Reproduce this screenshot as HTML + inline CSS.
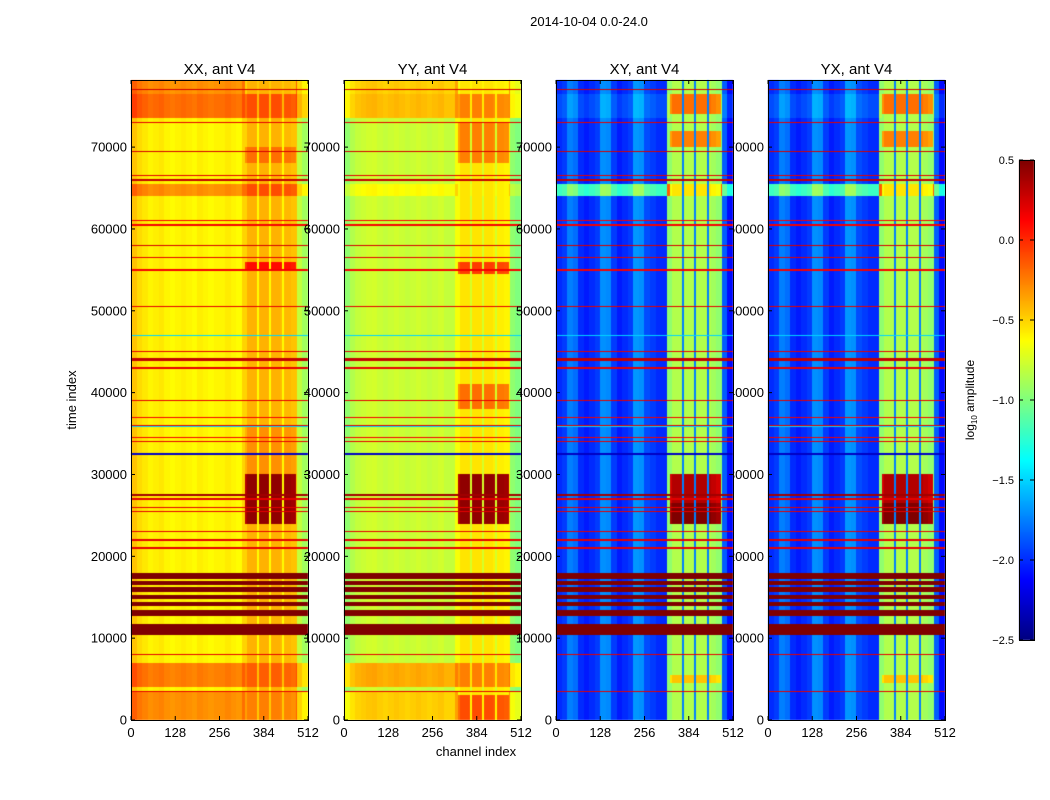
<!DOCTYPE html>
<html><head><meta charset="utf-8"><style>
body{margin:0;background:#fff;width:1050px;height:800px;overflow:hidden;position:relative;font-family:"Liberation Sans",sans-serif}
canvas{position:absolute;left:0;top:0}
svg{position:absolute;left:0;top:0}
</style></head><body>
<canvas id="cv" width="1050" height="800"></canvas>
<svg id="sv" width="1050" height="800"></svg>
<script>
// ---- data ----
const panelTitles=["XX, ant V4","YY, ant V4","XY, ant V4","YX, ant V4"];
const xTicks=[0,128,256,384,512];
const yTicks=[0,10000,20000,30000,40000,50000,60000,70000];
const cbTicks=[0.5,0.0,-0.5,-1.0,-1.5,-2.0,-2.5];
const cbLabels=["0.5","0.0","\u22120.5","\u22121.0","\u22121.5","\u22122.0","\u22122.5"];
// channel profiles at 16-channel bins (32 bins)
const profXX=[-0.45,-0.52,-0.56,-0.6,-0.58,-0.56,-0.6,-0.62,-0.6,-0.58,-0.6,-0.62,-0.58,-0.6,-0.62,-0.6,-0.6,-0.57,-0.6,-0.62,-0.5,-0.4,-0.4,-0.4,-0.4,-0.4,-0.4,-0.42,-0.42,-0.45,-0.8,-0.9];
const profYY=[-0.95,-0.85,-0.8,-0.78,-0.76,-0.75,-0.78,-0.8,-0.78,-0.76,-0.78,-0.8,-0.78,-0.76,-0.78,-0.8,-0.78,-0.76,-0.8,-0.8,-0.65,-0.55,-0.55,-0.55,-0.55,-0.55,-0.55,-0.58,-0.58,-0.6,-0.95,-1.0];
const profXY=[-2.0,-1.95,-1.75,-1.8,-2.0,-2.05,-2.0,-1.95,-1.7,-1.72,-1.95,-2.05,-2.0,-1.95,-1.68,-1.7,-1.9,-1.95,-2.0,-2.0,-0.95,-0.85,-0.85,-0.85,-0.85,-0.85,-0.85,-0.85,-0.9,-0.95,-1.85,-2.1];
const profs=[profXX,profYY,profXY,profXY];
const gapVals=[-0.62,-0.75,-1.75,-1.75];
// time bands [start,end,offset] applied to non-RFI part
const bandsXX=[[0,3500,0.3],[4000,7000,0.35],[64000,65500,0.3],[73500,76500,0.4],[76500,78200,0.3]];
const bandsYY=[[0,3500,0.3],[4000,7000,0.4],[64000,65500,0.15],[73500,76500,0.35],[76500,78200,0.3]];
const bandsXY=[[64000,65500,0.8],[73500,76500,0.1]];
const bandsAll=[bandsXX,bandsYY,bandsXY,bandsXY];
// RFI boost bands in channels 330-478 [start,end,boost]
const rfiXX=[[0,3500,0.15],[4000,7000,0.25],[24000,30000,0.85],[30000,36000,0.1],[55000,56000,0.5],[64000,65500,0.3],[68000,70000,0.2],[73500,76500,0.3]];
const rfiYY=[[0,3000,0.45],[4000,7000,0.3],[24000,30000,1.0],[38000,41000,0.35],[54500,56000,0.5],[68000,73000,0.3],[73500,76500,0.3]];
const rfiXY=[[24000,26500,1.35],[26500,30000,1.2],[70000,72000,0.6],[74000,76500,0.65],[4500,5500,0.4],[64000,65500,0.3]];
const rfiAll=[rfiXX,rfiYY,rfiXY,rfiXY];
// horizontal lines [time, value]
const lineTimes=[77000,73000,69500,66500,66000,61000,60500,58000,56500,55000,50500,47000,45000,44200,44000,43000,39000,37000,36000,35900,34500,34000,32500,27500,27000,26000,25500,23000,22000,21000,8000,3500];
const lineVals=[0.25,0.2,0.25,0.2,0.3,0.15,0.15,0.25,0.2,0.15,0.2,-1.5,0.2,0.3,0.3,0.2,0.2,0.15,0.2,-1.5,0.15,0.2,-2.3,0.4,0.2,0.2,0.2,0.2,0.2,0.2,0.2,0.2];
// saturated RFI block bands (dark red)
const satBands=[[10400,11700],[12700,13500],[13900,14400],[14800,15300],[15700,16200],[16500,17000],[17200,18000]];
const satVal=0.5;
// ---- layout ----
const panelX=[131,344,556,768], PW=177, PT=80, PB=720, TMAX=78200;
const yOf=t=>PB-t*(PB-PT)/TMAX;
const xOf=(p,c)=>panelX[p]+c*PW/512;
function jet(v){let f=(v+2.5)/3;f=Math.max(0,Math.min(1,f));
 const r=Math.max(0,Math.min(1,1.5-Math.abs(4*f-3))),g=Math.max(0,Math.min(1,1.5-Math.abs(4*f-2))),b=Math.max(0,Math.min(1,1.5-Math.abs(4*f-1)));
 return [r*255|0,g*255|0,b*255|0];}
const cv=document.getElementById('cv'),ctx=cv.getContext('2d');
const lumps=[[330,364],[370,400],[406,438],[444,478]];
for(let p=0;p<4;p++){
 const img=ctx.createImageData(PW,PB-PT);
 for(let y=0;y<PB-PT;y++){
  const t=(PB-PT-y-0.5)*TMAX/(PB-PT);
  let off=0;for(const b of bandsAll[p]) if(t>=b[0]&&t<b[1]) off=b[2];
  let rb=0;for(const b of rfiAll[p]) if(t>=b[0]&&t<b[1]) rb=b[2];
  let sat=false;for(const b of satBands) if(t>=b[0]&&t<b[1]) sat=true;
  let lv=null;for(let i=0;i<lineTimes.length;i++) if(Math.abs(t-lineTimes[i])<80) lv=lineVals[i];
  for(let x=0;x<PW;x++){
   const c=(x+0.5)*512/PW;
   let v=profs[p][Math.min(31,c/16|0)];
   let inL=false;for(const l of lumps) if(c>=l[0]&&c<l[1]) inL=true;
   const inR=c>=330&&c<478;
   if(inR&&!inL) v=gapVals[p]+(p<2?off*0.5:0);
   else if(inL) v+=rb;
   else v+=off;
   if(sat) v=satVal; if(lv!==null) v=lv;
   const col=jet(v),k=(y*PW+x)*4;
   img.data[k]=col[0];img.data[k+1]=col[1];img.data[k+2]=col[2];img.data[k+3]=255;
  }}
 ctx.putImageData(img,panelX[p],PT);
}
// colorbar
for(let y=160;y<640;y++){const c=jet(0.5-(y-160)*3/480);ctx.fillStyle=`rgb(${c[0]},${c[1]},${c[2]})`;ctx.fillRect(1019,y,15,1);}
// ---- svg ----
const NS='http://www.w3.org/2000/svg',sv=document.getElementById('sv');
function mk(tag,attrs,parent){const e=document.createElementNS(NS,tag);for(const k in attrs)e.setAttribute(k,attrs[k]);(parent||sv).appendChild(e);return e;}
function txt(s,attrs,parent){const e=mk('text',Object.assign({'font-size':13,fill:'#000','font-family':'Liberation Sans, sans-serif'},attrs),parent);e.textContent=s;return e;}
const clip=mk('clipPath',{id:'c4'});mk('rect',{x:734,y:0,width:400,height:800},clip);
const t0=txt("2014-10-04 0.0-24.0",{x:589,y:26,'text-anchor':'middle'});

for(let p=0;p<4;p++){
 const g=mk('g',{});
 
 const fr=mk('rect',{x:panelX[p]+0.5,y:PT+0.5,width:PW,height:PB-PT,fill:'none',stroke:'#000','stroke-width':1},g);
 
 const tt=txt(panelTitles[p],{x:panelX[p]+PW/2,y:74,'text-anchor':'middle','font-size':15},g);
 
 for(const c of xTicks){const x=xOf(p,c);
  mk('line',{x1:x,y1:PB,x2:x,y2:PB-4,stroke:'#000'},g);mk('line',{x1:x,y1:PT,x2:x,y2:PT+4,stroke:'#000'},g);
  const l=txt(String(c),{x:x,y:737,'text-anchor':'middle'},g);
  }
 const lg=p===3?mk('g',{'clip-path':'url(#c4)'},g):g;
 for(const v of yTicks){const y=yOf(v);
  mk('line',{x1:panelX[p],y1:y,x2:panelX[p]+4,y2:y,stroke:'#000'},g);mk('line',{x1:panelX[p]+PW,y1:y,x2:panelX[p]+PW-4,y2:y,stroke:'#000'},g);
  const l=txt(String(v),{x:panelX[p]-4,y:y+4.5,'text-anchor':'end'},lg);
  }
}
const yl=txt("time index",{x:0,y:0,'text-anchor':'middle',transform:'translate(76,400) rotate(-90)'});

const xl=txt("channel index",{x:476,y:756,'text-anchor':'middle'});

const cbf=mk('rect',{x:1019.5,y:160.5,width:15,height:480,fill:'none',stroke:'#000'});

cbTicks.forEach((v,i)=>{const y=160+(0.5-v)*160;
 mk('line',{x1:1019,y1:y,x2:1023,y2:y,stroke:'#000'});mk('line',{x1:1034,y1:y,x2:1030,y2:y,stroke:'#000'});
 const l=txt(cbLabels[i],{x:1014,y:y+4,'text-anchor':'end','font-size':11});
 });
const cl=mk('text',{x:0,y:0,'text-anchor':'middle','font-size':12,'font-family':'Liberation Sans, sans-serif',transform:'translate(974,400) rotate(-90)'});
cl.innerHTML='log<tspan font-size="8" dy="3">10</tspan><tspan dy="-3"> amplitude</tspan>';

</script></body></html>
